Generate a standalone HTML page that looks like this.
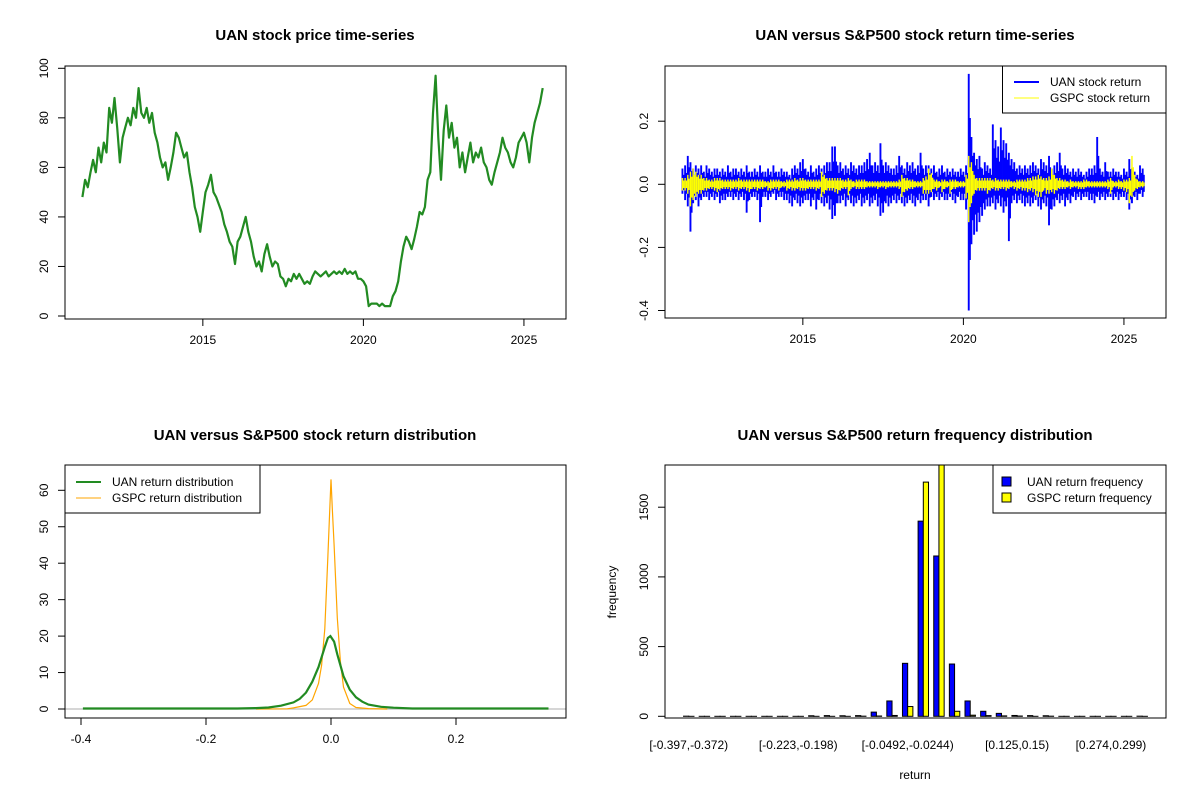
<!DOCTYPE html>
<html><head><meta charset="utf-8"><style>
html,body{margin:0;padding:0;background:#fff;}
svg{display:block;font-family:"Liberation Sans",Arial,sans-serif;}
.t{font-size:15px;font-weight:bold;text-anchor:middle;}
.tk{font-size:12px;}
</style></head><body>
<svg id="chart" width="1200" height="800" xmlns="http://www.w3.org/2000/svg"></svg>
<script>
// ---------- Panel 1: price (monthly from Apr 2011) ----------
const priceStartYear = 2011.25;
const priceValues = [48,55,52,58,63,58,68,62,70,
66,84,78,88,76,62,72,76,80,77,84,80,
92,82,80,84,78,82,74,70,64,60,62,55,
60,66,74,72,68,64,66,58,52,44,40,34,
42,50,53,57,50,48,45,42,37,34,30,28,
21,30,32,36,40,34,30,24,20,22,18,25,
29,24,20,22,21,16,15,12,15,14,17,15,
17,15,13,14,13,16,18,17,16,17,18,16,
17,18,17,18,17,19,17,18,17,18,15,15,
14,12,4,5,5,5,4,5,4,4,4,8,
10,14,22,28,32,30,27,31,36,42,41,44,
55,58,82,97,72,55,75,85,72,78,68,72,
60,66,58,64,70,62,66,64,68,62,60,55,
53,58,62,66,72,68,66,62,60,64,70,72,
74,70,62,72,78,82,86,92];
const yearTicks = [2015,2020,2025];
const priceTicks = [0,20,40,60,80,100];
// ---------- Panel 2: returns (monthly high / low envelope) ----------
const uanHigh = [.05,.06,.09,.07,.05,.06,.05,.06,.04,
.06,.05,.04,.05,.05,.04,.05,.04,.06,.04,.05,.05,
.04,.05,.04,.06,.04,.04,.05,.04,.06,.04,.04,.05,
.04,.06,.04,.04,.05,.04,.04,.03,.05,.06,.05,.07,
.08,.05,.04,.06,.04,.05,.06,.05,.06,.07,.07,.12,
.12,.06,.07,.05,.06,.05,.07,.06,.05,.06,.06,.07,
.08,.10,.06,.07,.06,.13,.06,.07,.06,.05,.05,.06,
.09,.06,.05,.07,.06,.07,.05,.06,.10,.05,.06,.06,
.05,.06,.04,.05,.06,.04,.05,.04,.05,.04,.04,.05,
.04,.06,.35,.15,.10,.08,.09,.05,.07,.06,.05,.19,
.14,.12,.18,.14,.13,.10,.08,.07,.05,.06,.05,.06,
.05,.06,.07,.06,.05,.08,.07,.06,.09,.05,.06,.07,
.10,.05,.06,.05,.04,.05,.04,.05,.04,.03,.04,.05,
.05,.06,.15,.05,.04,.07,.04,.04,.05,.04,.04,.03,
.05,.04,.08,.05,.04,.03,.06,.05];
const uanLow = [-.03,-.05,-.07,-.15,-.06,-.05,-.07,-.05,-.04,
-.04,-.05,-.04,-.05,-.04,-.06,-.05,-.05,-.04,-.04,-.05,-.04,
-.05,-.04,-.05,-.09,-.05,-.04,-.04,-.05,-.12,-.04,-.04,-.05,
-.04,-.03,-.05,-.04,-.04,-.05,-.05,-.06,-.07,-.05,-.06,-.07,
-.06,-.05,-.05,-.07,-.05,-.08,-.05,-.06,-.07,-.06,-.08,-.11,
-.10,-.06,-.06,-.05,-.07,-.05,-.06,-.07,-.06,-.05,-.07,-.06,
-.05,-.07,-.06,-.05,-.07,-.10,-.09,-.06,-.07,-.06,-.05,-.06,
-.05,-.06,-.07,-.06,-.05,-.06,-.07,-.05,-.06,-.05,-.05,-.07,
-.04,-.05,-.04,-.05,-.04,-.05,-.05,-.04,-.05,-.06,-.04,-.05,
-.05,-.08,-.40,-.19,-.16,-.15,-.12,-.10,-.08,-.07,-.07,-.06,
-.08,-.06,-.07,-.09,-.07,-.18,-.06,-.05,-.06,-.05,-.06,-.07,
-.06,-.07,-.06,-.05,-.07,-.08,-.06,-.07,-.13,-.08,-.07,-.05,
-.06,-.05,-.07,-.05,-.06,-.04,-.05,-.04,-.05,-.04,-.04,-.05,
-.05,-.06,-.04,-.05,-.04,-.05,-.04,-.04,-.05,-.04,-.05,-.04,
-.04,-.05,-.08,-.06,-.04,-.05,-.03,-.04];
const gspcHigh = [.02,.02,.03,.04,.05,.04,.03,.03,.02,
.02,.015,.015,.02,.02,.02,.015,.015,.015,.015,.015,.015,
.02,.015,.015,.015,.015,.015,.015,.015,.015,.015,.01,.01,
.015,.015,.015,.015,.01,.01,.015,.015,.015,.02,.015,.02,
.02,.015,.015,.015,.015,.015,.015,.04,.03,.02,.02,.02,
.02,.02,.02,.015,.015,.02,.015,.01,.015,.015,.015,.015,
.01,.01,.01,.01,.01,.01,.01,.01,.01,.01,.01,.01,
.015,.03,.02,.02,.015,.015,.01,.01,.01,.02,.025,.05,
.035,.015,.015,.01,.015,.015,.01,.015,.015,.015,.01,.01,
.01,.03,.09,.07,.03,.02,.02,.02,.02,.02,.02,.015,
.02,.015,.015,.015,.015,.015,.01,.01,.015,.015,.015,.015,
.02,.02,.025,.025,.03,.025,.02,.02,.025,.05,.03,.02,
.02,.015,.015,.01,.015,.01,.01,.01,.01,.015,.015,.01,
.01,.01,.01,.01,.01,.01,.015,.02,.01,.01,.015,.01,
.015,.015,.02,.09,.03,.015,.01,.01];
const gspcLow = [-.02,-.02,-.03,-.07,-.05,-.04,-.03,-.03,-.02,
-.02,-.015,-.015,-.02,-.025,-.02,-.015,-.015,-.015,-.02,-.015,-.015,
-.02,-.015,-.015,-.02,-.025,-.015,-.015,-.02,-.015,-.015,-.01,-.02,
-.02,-.015,-.015,-.02,-.01,-.01,-.02,-.015,-.02,-.02,-.015,-.02,
-.02,-.02,-.015,-.015,-.015,-.02,-.015,-.04,-.03,-.02,-.02,-.02,
-.025,-.03,-.02,-.015,-.015,-.035,-.015,-.01,-.015,-.015,-.015,-.015,
-.01,-.01,-.01,-.01,-.015,-.01,-.01,-.015,-.01,-.01,-.01,-.01,
-.015,-.04,-.025,-.02,-.015,-.015,-.01,-.01,-.01,-.03,-.03,-.03,
-.025,-.015,-.02,-.01,-.025,-.015,-.01,-.03,-.015,-.015,-.01,-.01,
-.01,-.045,-.12,-.06,-.03,-.02,-.02,-.02,-.02,-.03,-.02,-.015,
-.02,-.02,-.015,-.015,-.02,-.015,-.01,-.015,-.02,-.015,-.02,-.02,
-.025,-.02,-.025,-.035,-.04,-.04,-.02,-.03,-.03,-.025,-.03,-.02,
-.015,-.015,-.015,-.01,-.015,-.01,-.01,-.015,-.015,-.015,-.01,-.01,
-.01,-.01,-.01,-.01,-.01,-.01,-.015,-.03,-.01,-.01,-.015,-.015,
-.02,-.025,-.06,-.04,-.02,-.015,-.01,-.01];
const retTicks = [-0.4,-0.2,0.0,0.2];
// ---------- Panel 3: densities ----------
const uanDensX = [-0.397,-0.15,-0.12,-0.1,-0.08,-0.06,-0.05,-0.04,-0.03,-0.02,-0.01,-0.005,-0.001,0.005,0.01,0.02,0.03,0.04,0.05,0.06,0.08,0.1,0.13,0.348];
const uanDensY = [0.15,0.15,0.25,0.4,0.9,1.8,2.8,4.5,7.5,11.5,17,19.5,20,18.5,15,9,5.3,3.2,2.0,1.2,0.6,0.35,0.15,0.15];
const gspcDensX = [-0.12,-0.07,-0.06,-0.04,-0.03,-0.02,-0.015,-0.01,-0.005,-0.002,0,0.002,0.005,0.01,0.015,0.02,0.03,0.04,0.06,0.09];
const gspcDensY = [0,0.05,0.3,1,2.5,7,12,22,42,55,63,55,45,25,13,6,1.5,0.4,0.1,0];
const densXTicks = [-0.4,-0.2,0.0,0.2];
const densYTicks = [0,10,20,30,40,50,60];
// ---------- Panel 4: histogram ----------
const binLabels = ["[-0.397,-0.372)","[-0.372,-0.347)","[-0.347,-0.322)","[-0.322,-0.298)","[-0.298,-0.273)","[-0.273,-0.248)","[-0.248,-0.223)","[-0.223,-0.198)","[-0.198,-0.173)","[-0.173,-0.149)","[-0.149,-0.124)","[-0.124,-0.0988)","[-0.0988,-0.074)","[-0.074,-0.0492)","[-0.0492,-0.0244)","[-0.0244,0.000409)","[0.000409,0.0252)","[0.0252,0.05)","[0.05,0.0749)","[0.0749,0.1)","[0.1,0.125)","[0.125,0.15)","[0.15,0.174)","[0.174,0.199)","[0.199,0.224)","[0.224,0.249)","[0.249,0.274)","[0.274,0.299)","[0.299,0.323)","[0.323,0.348]"];
const shownLabelIdx = [0,7,14,21,27];
const uanFreq = [1,0,0,0,0,0,0,0,4,5,4,5,30,110,380,1400,1150,375,110,36,21,6,5,4,0,0,0,0,0,1];
const gspcFreq = [0,0,0,0,0,0,0,0,0,0,0,1,2,6,70,1680,1950,36,8,5,3,2,0,1,0,0,0,0,0,0];
const freqTicks = [0,500,1000,1500];

const svg = document.getElementById('chart');
const NS = 'http://www.w3.org/2000/svg';
function mk(tag, attrs, parent, text){
  const e = document.createElementNS(NS, tag);
  for (const k in attrs) e.setAttribute(k, attrs[k]);
  if (text !== undefined) e.textContent = text;
  (parent || svg).appendChild(e);
  return e;
}
const defs = mk('defs', {});
function clip(id, x, y, w, h){ const c = mk('clipPath', {id: id}, defs); mk('rect', {x:x, y:y, width:w, height:h}, c); }

const L1 = {x0:65, x1:566, y0:66, y1:319};
const L2 = {x0:665, x1:1166, y0:66, y1:318};
const L3 = {x0:65, x1:566, y0:465, y1:718};
const L4 = {x0:665, x1:1166, y0:465, y1:718};

function yearX(L, yr){ return L.x0 + (yr - 2010.707) / (2026.31 - 2010.707) * (L.x1 - L.x0); }

function frame(L, name){
  const r = mk('rect', {x:L.x0, y:L.y0, width:L.x1-L.x0, height:L.y1-L.y0, fill:'none', stroke:'#000', 'stroke-width':1});
  
  
}
function title(x, y, txt, name){
  const t = mk('text', {x:x, y:y, class:'t'}, svg, txt);
  
  
}
function xTick(L, x, label, name){
  const g = mk('g', {});
  
  
  mk('line', {x1:x, x2:x, y1:L.y1, y2:L.y1+7, stroke:'#000'}, g);
  mk('text', {x:x, y:L.y1+25, class:'tk', 'text-anchor':'middle'}, g, label);
}
function yTick(L, y, label, name){
  const g = mk('g', {});
  
  
  mk('line', {x1:L.x0-7, x2:L.x0, y1:y, y2:y, stroke:'#000'}, g);
  mk('text', {x:0, y:0, class:'tk', 'text-anchor':'middle', transform:'translate('+(L.x0-17)+','+y+') rotate(-90)'}, g, label);
}

// ===== Panel 1 =====
title(315, 40, 'UAN stock price time-series', 'price-chart-title');
const p1y = v => 316 - v * 2.477;
clip('c1', L1.x0, L1.y0, L1.x1-L1.x0, L1.y1-L1.y0);
const pricePts = priceValues.map((v,i) => yearX(L1, priceStartYear + i/12).toFixed(1) + ',' + p1y(v).toFixed(1)).join(' ');
const pl = mk('polyline', {points:pricePts, fill:'none', stroke:'#228B22', 'stroke-width':2.2, 'stroke-linejoin':'round', 'clip-path':'url(#c1)'});


frame(L1, 'price-plot-frame');
yearTicks.forEach(y => xTick(L1, yearX(L1, y), String(y), 'price-x-tick'));
priceTicks.forEach(v => yTick(L1, p1y(v), String(v), 'price-y-tick'));

// ===== Panel 2 =====
title(915, 40, 'UAN versus S&P500 stock return time-series', 'return-chart-title');
const p2y = v => 184.3 - v * 315.5;
clip('c2', L2.x0, L2.y0, L2.x1-L2.x0, L2.y1-L2.y0);
const gU = mk('g', {'clip-path':'url(#c2)'});


uanHigh.forEach((h,i) => {
  const x = yearX(L2, priceStartYear + i/12);
  mk('line', {x1:x, x2:x, y1:p2y(h), y2:p2y(uanLow[i]), stroke:'#0000FF', 'stroke-width':1.9}, gU);
  mk('line', {x1:x+1.3, x2:x+1.3, y1:p2y(h*0.6), y2:p2y(uanLow[i]*0.6), stroke:'#0000FF', 'stroke-width':1.6}, gU);
});
const gG = mk('g', {'clip-path':'url(#c2)'});


gspcHigh.forEach((h,i) => {
  const x = yearX(L2, priceStartYear + i/12);
  mk('line', {x1:x, x2:x, y1:p2y(h), y2:p2y(gspcLow[i]), stroke:'#FFFF00', 'stroke-width':1.4}, gG);
  mk('line', {x1:x+1.3, x2:x+1.3, y1:p2y(h*0.6), y2:p2y(gspcLow[i]*0.6), stroke:'#FFFF00', 'stroke-width':1.4}, gG);
});
frame(L2, 'return-plot-frame');
yearTicks.forEach(y => xTick(L2, yearX(L2, y), String(y), 'return-x-tick'));
retTicks.forEach(v => yTick(L2, p2y(v), v.toFixed(1), 'return-y-tick'));
const lg2 = mk('g', {});


mk('rect', {x:1002.5, y:66, width:163.5, height:47, fill:'#fff', stroke:'#000'}, lg2);
mk('line', {x1:1014, x2:1039, y1:82, y2:82, stroke:'#0000FF', 'stroke-width':2}, lg2);
mk('line', {x1:1014, x2:1039, y1:98, y2:98, stroke:'#FFFF00', 'stroke-width':1}, lg2);
mk('text', {x:1050, y:86, class:'tk'}, lg2, 'UAN stock return');
mk('text', {x:1050, y:102, class:'tk'}, lg2, 'GSPC stock return');

// ===== Panel 3 =====
title(315, 440, 'UAN versus S&P500 stock return distribution', 'density-chart-title');
const p3x = v => 331 + v * 625;
const p3y = v => 709 - v * 3.645;
clip('c3', L3.x0, L3.y0, L3.x1-L3.x0, L3.y1-L3.y0);
const zl = mk('line', {x1:L3.x0, x2:L3.x1, y1:p3y(0), y2:p3y(0), stroke:'#BEBEBE', 'stroke-width':1.2});


const gd = mk('polyline', {points: gspcDensX.map((x,i)=>p3x(x).toFixed(1)+','+p3y(gspcDensY[i]).toFixed(1)).join(' '), fill:'none', stroke:'#FFA500', 'stroke-width':1.2, 'clip-path':'url(#c3)'});


const ud = mk('polyline', {points: uanDensX.map((x,i)=>p3x(x).toFixed(1)+','+p3y(uanDensY[i]).toFixed(1)).join(' '), fill:'none', stroke:'#228B22', 'stroke-width':2.2, 'clip-path':'url(#c3)'});


frame(L3, 'density-plot-frame');
densXTicks.forEach(v => xTick(L3, p3x(v), v.toFixed(1), 'density-x-tick'));
densYTicks.forEach(v => yTick(L3, p3y(v), String(v), 'density-y-tick'));
const lg3 = mk('g', {});


mk('rect', {x:65, y:465, width:195, height:48, fill:'#fff', stroke:'#000'}, lg3);
mk('line', {x1:76, x2:101, y1:482, y2:482, stroke:'#228B22', 'stroke-width':2}, lg3);
mk('line', {x1:76, x2:101, y1:498, y2:498, stroke:'#FFA500', 'stroke-width':1}, lg3);
mk('text', {x:112, y:486, class:'tk'}, lg3, 'UAN return distribution');
mk('text', {x:112, y:502, class:'tk'}, lg3, 'GSPC return distribution');

// ===== Panel 4 =====
title(915, 440, 'UAN versus S&P500 return frequency distribution', 'histogram-chart-title');
const p4x = u => L4.x0 + (u + 2.56) * 5.212;
const p4y = v => 716.3 - v * 0.1394;
clip('c4', L4.x0, L4.y0, L4.x1-L4.x0, L4.y1-L4.y0);
const gb = mk('g', {'clip-path':'url(#c4)'});


uanFreq.forEach((f,i) => {
  const u = 3*i + 1;
  const b1 = mk('rect', {x:p4x(u), y:p4y(f), width:5.212, height:Math.max(0.01, p4y(0)-p4y(f)), fill:'#0000FF', stroke:'#000', 'stroke-width':1}, gb);
  
  
  const g = gspcFreq[i];
  const b2 = mk('rect', {x:p4x(u+1), y:p4y(g), width:5.212, height:Math.max(0.01, p4y(0)-p4y(g)), fill:'#FFFF00', stroke:'#000', 'stroke-width':1}, gb);
  
  
});
frame(L4, 'histogram-plot-frame');
shownLabelIdx.forEach(i => {
  const t = mk('text', {x:p4x(3*i+2), y:749, class:'tk', 'text-anchor':'middle'}, svg, binLabels[i]);
  
  
});
freqTicks.forEach(v => yTick(L4, p4y(v), String(v), 'histogram-y-tick'));
const xl = mk('text', {x:915, y:779, class:'tk', 'text-anchor':'middle'}, svg, 'return');


const yl = mk('text', {x:0, y:0, class:'tk', 'text-anchor':'middle', transform:'translate(616,592) rotate(-90)'}, svg, 'frequency');


const lg4 = mk('g', {});


mk('rect', {x:993, y:465, width:173, height:48, fill:'#fff', stroke:'#000'}, lg4);
mk('rect', {x:1002, y:477, width:9, height:9, fill:'#0000FF', stroke:'#000'}, lg4);
mk('rect', {x:1002, y:493, width:9, height:9, fill:'#FFFF00', stroke:'#000'}, lg4);
mk('text', {x:1027, y:486, class:'tk'}, lg4, 'UAN return frequency');
mk('text', {x:1027, y:502, class:'tk'}, lg4, 'GSPC return frequency');
</script>
</body></html>
